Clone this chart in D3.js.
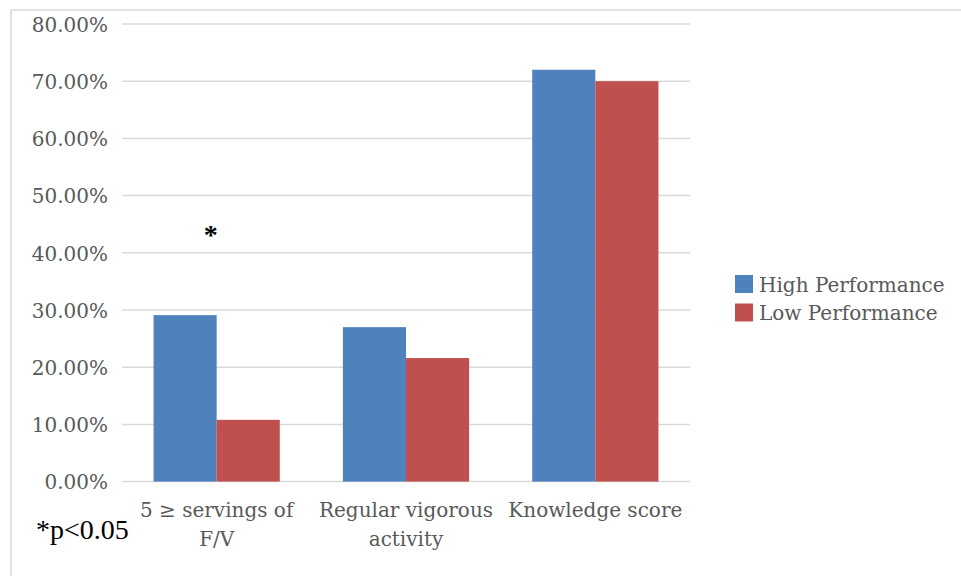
<!DOCTYPE html>
<html><head><meta charset="utf-8">
<script src="https://cdn.jsdelivr.net/npm/d3@7"></script>
<style>body{margin:0;background:#fff}svg{display:block}</style>
</head><body>
<script>
const categories = [["5 ≥ servings of", "F/V"], ["Regular vigorous", "activity"], ["Knowledge score"]];
const seriesNames = ["High Performance", "Low Performance"];
const highValues = [0.291, 0.270, 0.720];
const lowValues = [0.108, 0.216, 0.700];
const yTicks = [0, 0.1, 0.2, 0.3, 0.4, 0.5, 0.6, 0.7, 0.8];
const colors = ["#4F81BD", "#C0504D"];

(function () {
const W = 961, H = 576;
const svg = d3.select("body").append("svg").attr("width", W).attr("height", H);
const font = "'DejaVu Serif', serif";

// outer border
svg.append("rect").attr("x", 11).attr("y", 10).attr("width", W + 10).attr("height", H + 10)
  .attr("fill", "none").attr("stroke", "#D9D9D9").attr("stroke-width", 1.5);

const pL = 122, pR = 690, pT = 24, pB = 481.6;
const y = d3.scaleLinear().domain([0, 0.8]).range([pB, pT]);
const x0 = d3.scaleBand().domain(d3.range(categories.length)).range([pL, pR]).paddingInner(1/3).paddingOuter(1/6);
const x1 = d3.scaleBand().domain([0, 1]).range([0, x0.bandwidth()]);

// gridlines
svg.append("g").selectAll("line").data(yTicks).join("line")
  .attr("x1", pL).attr("x2", pR).attr("y1", d => y(d)).attr("y2", d => y(d))
  .attr("stroke", "#D9D9D9").attr("stroke-width", 1.5);

// y axis labels
const yAxis = d3.axisLeft(y).tickValues(yTicks).tickFormat(d3.format(".2%")).tickSize(0).tickPadding(14);
const ya = svg.append("g").attr("transform", `translate(${pL},0)`).call(yAxis);
ya.select(".domain").remove();
ya.selectAll("text").attr("font-family", font).attr("font-size", 20).attr("fill", "#595959").attr("dy", "0.36em");

// bars
const data = categories.map((c, i) => [highValues[i], lowValues[i]]);
const groups = svg.append("g").selectAll("g").data(data).join("g")
  .attr("transform", (d, i) => `translate(${x0(i)},0)`);
groups.selectAll("rect").data(d => d).join("rect")
  .attr("x", (d, j) => x1(j)).attr("width", x1.bandwidth())
  .attr("y", d => y(d)).attr("height", d => y(0) - y(d))
  .attr("fill", (d, j) => colors[j]);

// category labels
const xl = svg.append("g");
categories.forEach((lines, i) => {
  const cx = x0(i) + x0.bandwidth() / 2;
  const t = xl.append("text").attr("x", cx).attr("y", 517)
    .attr("text-anchor", "middle").attr("font-family", font).attr("font-size", 20).attr("fill", "#595959");
  lines.forEach((l, k) => t.append("tspan").attr("x", cx).attr("dy", k === 0 ? 0 : 29).text(l));
});

// significance marker
svg.append("text").attr("x", x0(0) + x0.bandwidth() / 2 - 6).attr("y", 244)
  .attr("text-anchor", "middle").attr("font-family", "'Liberation Serif', serif").attr("font-size", 28)
  .attr("font-weight", "bold").attr("fill", "#000").text("*");
svg.append("text").attr("x", 36).attr("y", 539)
  .attr("font-family", "'Liberation Serif', serif").attr("font-size", 28).attr("fill", "#000").text("*p<0.05");

// legend
const lg = svg.append("g").attr("transform", "translate(735,275)");
seriesNames.forEach((n, i) => {
  lg.append("rect").attr("x", 0).attr("y", i * 28.5).attr("width", 18).attr("height", 18).attr("fill", colors[i]);
  lg.append("text").attr("x", 24).attr("y", i * 28.5 + 16.5).attr("font-family", font).attr("font-size", 20)
    .attr("fill", "#595959").text(n);
});
})();
</script>
</body></html>
